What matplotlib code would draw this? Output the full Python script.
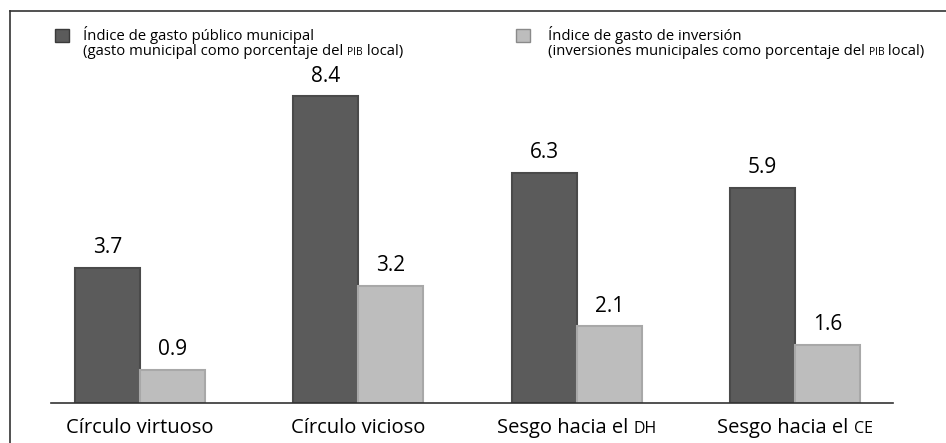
import numpy as np
import matplotlib.pyplot as plt
from matplotlib.lines import Line2D
from matplotlib.patches import Rectangle

# datos
categorias = ['Círculo virtuoso', 'Círculo vicioso', 'Sesgo hacia el ', 'Sesgo hacia el ']
versalitas = ['', '', 'DH', 'CE']
gasto_publico = [3.7, 8.4, 6.3, 5.9]
gasto_inversion = [0.9, 3.2, 2.1, 1.6]
serie1 = ['Índice de gasto público municipal', '(gasto municipal como porcentaje del ', 'PIB', ' local)']
serie2 = ['Índice de gasto de inversión', '(inversiones municipales como porcentaje del ', 'PIB', ' local)']

plt.rcParams['font.family'] = ['Open Sans', 'DejaVu Sans']
OSCURO = '#5b5b5b'
CLARO = '#bdbdbd'

fig = plt.figure(figsize=(9.46, 4.43), dpi=100)
ax = fig.add_axes([51/946, 40/443, (893-51)/946, 392/443])

x = np.arange(len(categorias))
ancho = 0.298
b1 = ax.bar(x - ancho/2, gasto_publico, ancho, color=OSCURO, edgecolor='#4a4a4a', linewidth=1.5)
b2 = ax.bar(x + ancho/2, gasto_inversion, ancho, color=CLARO, edgecolor='#a8a8a8', linewidth=1.5)

for barras in (b1, b2):
    for b in barras:
        ax.annotate(f'{b.get_height():.1f}', (b.get_x() + b.get_width()/2, b.get_height()),
                    xytext=(0, 7), textcoords='offset points', ha='center', va='bottom',
                    fontsize=15)

ax.set_xlim(-0.408, 3.449)
ax.set_ylim(0, 10.74)
for s in ['top', 'right', 'left']:
    ax.spines[s].set_visible(False)
ax.spines['bottom'].set_color('#333333')
ax.spines['bottom'].set_linewidth(1.2)
ax.set_yticks([])
ax.set_xticks([])

fig.canvas.draw()
r = fig.canvas.get_renderer()


def es_chico(p):
    return p.isupper() and len(p) <= 3


def ancho_partes(partes, tam, tam_chico):
    w = 0
    for p in partes:
        if p == '':
            continue
        t = fig.text(0, 0, p, fontsize=tam_chico if es_chico(p) else tam)
        w += t.get_window_extent(r).width
        t.remove()
    return w


def texto_partes(xpix, ypix, partes, tam, tam_chico):
    # escribe texto con partes en versalitas (mas chicas)
    xx = xpix
    for p in partes:
        if p == '':
            continue
        t = fig.text(xx/946, 1 - ypix/443, p, fontsize=tam_chico if es_chico(p) else tam,
                     va='baseline', ha='left')
        xx += t.get_window_extent(r).width


# etiquetas de categorias
for i, (c, v) in enumerate(zip(categorias, versalitas)):
    partes = [c, v]
    w = ancho_partes(partes, 14.5, 11.5)
    xc = ax.transData.transform((x[i], 0))[0]
    texto_partes(xc - w/2, 433, partes, 14.5, 11.5)

# leyenda
fig.add_artist(Rectangle((55/946, 1 - 42/443), 14/946, 13/443, color=OSCURO, ec='#3a3a3a', lw=1))
fig.add_artist(Rectangle((516/946, 1 - 42/443), 14/946, 13/443, color=CLARO, ec='#8a8a8a', lw=1))
texto_partes(83, 40, [serie1[0]], 10.7, 7.5)
texto_partes(83, 55, serie1[1:], 10.7, 7.5)
texto_partes(548, 40, [serie2[0]], 10.7, 7.5)
texto_partes(548, 55, serie2[1:], 10.7, 7.5)

# marco
fig.add_artist(Line2D([10/946, 1], [1 - 11/443, 1 - 11/443], color='#333333', lw=1.2))
fig.add_artist(Line2D([10/946, 10/946], [0, 1 - 11/443], color='#333333', lw=1.2))

fig.savefig('out.png', dpi=100)
